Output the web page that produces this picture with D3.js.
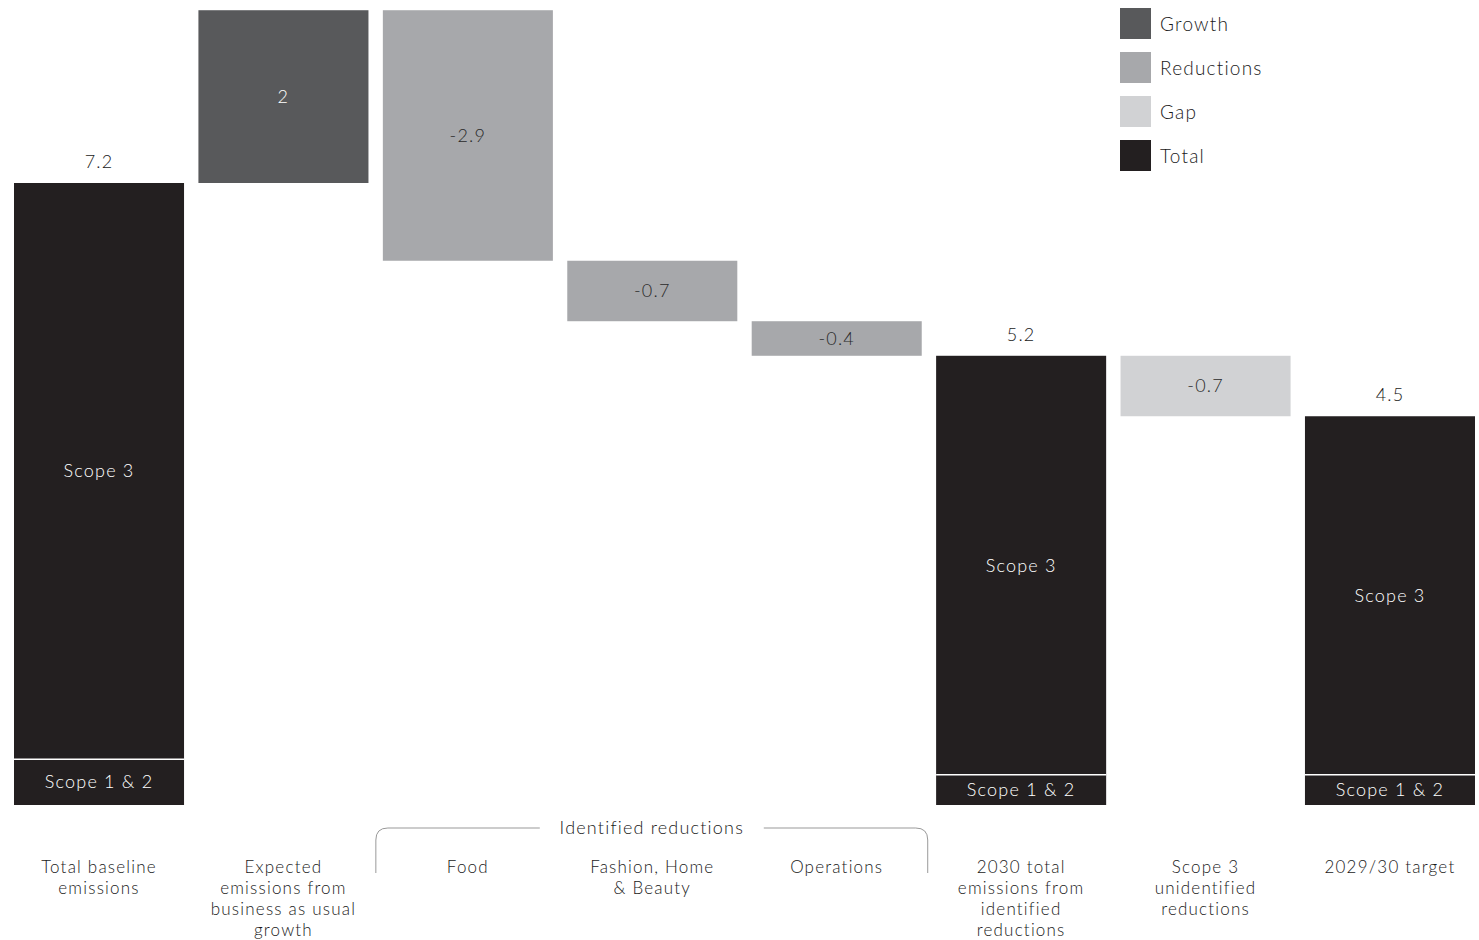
<!DOCTYPE html>
<html>
<head>
<meta charset="utf-8">
<script src="https://cdn.jsdelivr.net/npm/d3@7"></script>
<style>
  body { margin: 0; background: #fff; }
  svg text { font-family: Lato, "Noto Sans", sans-serif; font-weight: 300; letter-spacing: 1.2px; }
</style>
</head>
<body>
<div id="chart"></div>
<script>
const width = 1479;
const height = 940;

// data
const categories = [
  ["Total baseline", "emissions"],
  ["Expected", "emissions from", "business as usual", "growth"],
  ["Food"],
  ["Fashion, Home", "& Beauty"],
  ["Operations"],
  ["2030 total", "emissions from", "identified", "reductions"],
  ["Scope 3", "unidentified", "reductions"],
  ["2029/30 target"]
];
const values = [7.2, 2, -2.9, -0.7, -0.4, 5.2, -0.7, 4.5];
const kinds = ["Total", "Growth", "Reductions", "Reductions", "Reductions", "Total", "Gap", "Total"];
const scope12 = [0.53, null, null, null, null, 0.35, null, 0.35];
const legendItems = ["Growth", "Reductions", "Gap", "Total"];
const colors = { Growth: "#58595b", Reductions: "#a7a8ab", Gap: "#d1d2d4", Total: "#231f20" };

// compute waterfall start/end
let running = 0;
const bars = values.map((v, i) => {
  let y0, y1;
  if (kinds[i] === "Total") {
    y0 = 0; y1 = v; running = v;
  } else {
    y0 = running; y1 = running + v; running = y1;
  }
  return { i, v, kind: kinds[i], lo: Math.min(y0, y1), hi: Math.max(y0, y1), s12: scope12[i] };
});

const svg = d3.select("#chart").append("svg")
  .attr("width", width)
  .attr("height", height);

const x = d3.scaleBand()
  .domain(d3.range(categories.length))
  .range([14, 1475])
  .paddingInner(0.078)
  .paddingOuter(0);

const y = d3.scaleLinear()
  .domain([0, 7.2])
  .range([805, 183]);

// bars
svg.selectAll("rect.bar")
  .data(bars)
  .enter()
  .append("rect")
  .attr("class", "bar")
  .attr("x", d => x(d.i))
  .attr("y", d => y(d.hi))
  .attr("width", x.bandwidth())
  .attr("height", d => y(d.lo) - y(d.hi))
  .attr("fill", d => colors[d.kind]);

const totals = bars.filter(d => d.kind === "Total");

// scope 1 & 2 separator
svg.selectAll("line.sep")
  .data(totals)
  .enter()
  .append("line")
  .attr("x1", d => x(d.i))
  .attr("x2", d => x(d.i) + x.bandwidth())
  .attr("y1", d => y(d.s12))
  .attr("y2", d => y(d.s12))
  .attr("stroke", "#fff")
  .attr("stroke-width", 1.5);

// value labels above totals
svg.selectAll("text.total")
  .data(totals)
  .enter()
  .append("text")
  .attr("x", d => x(d.i) + x.bandwidth() / 2)
  .attr("y", d => y(d.hi) - 15)
  .attr("text-anchor", "middle")
  .attr("font-size", "18px")
  .attr("fill", "#1a1a1a")
  .text(d => d.v);

// scope labels
svg.selectAll("text.scope3")
  .data(totals)
  .enter()
  .append("text")
  .attr("x", d => x(d.i) + x.bandwidth() / 2)
  .attr("y", d => (y(d.hi) + y(d.s12)) / 2)
  .attr("dy", "0.35em")
  .attr("text-anchor", "middle")
  .attr("font-size", "18px")
  .attr("fill", "#fff")
  .text("Scope 3");

svg.selectAll("text.scope12")
  .data(totals)
  .enter()
  .append("text")
  .attr("x", d => x(d.i) + x.bandwidth() / 2)
  .attr("y", d => (y(d.s12) + y(0)) / 2)
  .attr("dy", "0.35em")
  .attr("text-anchor", "middle")
  .attr("font-size", "18px")
  .attr("fill", "#fff")
  .text("Scope 1 & 2");

// labels inside floating bars
svg.selectAll("text.delta")
  .data(bars.filter(d => d.kind !== "Total"))
  .enter()
  .append("text")
  .attr("x", d => x(d.i) + x.bandwidth() / 2)
  .attr("y", d => (y(d.hi) + y(d.lo)) / 2)
  .attr("dy", "0.35em")
  .attr("text-anchor", "middle")
  .attr("font-size", "18px")
  .attr("fill", d => d.kind === "Growth" ? "#fff" : "#2a2a2a")
  .text(d => d.v);

// category labels
const cat = svg.selectAll("text.cat")
  .data(categories)
  .enter()
  .append("text")
  .attr("text-anchor", "middle")
  .attr("font-size", "17px")
  .attr("fill", "#1a1a1a");

cat.selectAll("tspan")
  .data((d, i) => d.map(line => ({ line, i })))
  .enter()
  .append("tspan")
  .attr("x", d => x(d.i) + x.bandwidth() / 2)
  .attr("y", (d, j) => 873 + j * 21)
  .text(d => d.line);

// identified reductions bracket
const bx0 = x(2) - 7, bx1 = x(4) + x.bandwidth() + 6;
const by = 828, bb = 873, r = 12;
const bracketLabel = "Identified reductions";
const midX = (bx0 + bx1) / 2;

svg.append("path")
  .attr("d", `M${bx0},${bb} V${by + r} Q${bx0},${by} ${bx0 + r},${by} H${midX - 112}`)
  .attr("fill", "none")
  .attr("stroke", "#999")
  .attr("stroke-width", 1);

svg.append("path")
  .attr("d", `M${midX + 112},${by} H${bx1 - r} Q${bx1},${by} ${bx1},${by + r} V${bb}`)
  .attr("fill", "none")
  .attr("stroke", "#999")
  .attr("stroke-width", 1);

svg.append("text")
  .attr("x", midX)
  .attr("y", by)
  .attr("dy", "0.35em")
  .attr("text-anchor", "middle")
  .attr("font-size", "18px")
  .attr("fill", "#1a1a1a")
  .text(bracketLabel);

// legend
const legend = svg.append("g")
  .attr("transform", "translate(1120,8)");

legend.selectAll("rect")
  .data(legendItems)
  .enter()
  .append("rect")
  .attr("x", 0)
  .attr("y", (d, i) => i * 44)
  .attr("width", 31)
  .attr("height", 31)
  .attr("fill", d => colors[d]);

legend.selectAll("text")
  .data(legendItems)
  .enter()
  .append("text")
  .attr("x", 40)
  .attr("y", (d, i) => i * 44 + 16)
  .attr("dy", "0.35em")
  .attr("font-size", "19px")
  .attr("fill", "#1a1a1a")
  .text(d => d);
</script>
</body>
</html>
